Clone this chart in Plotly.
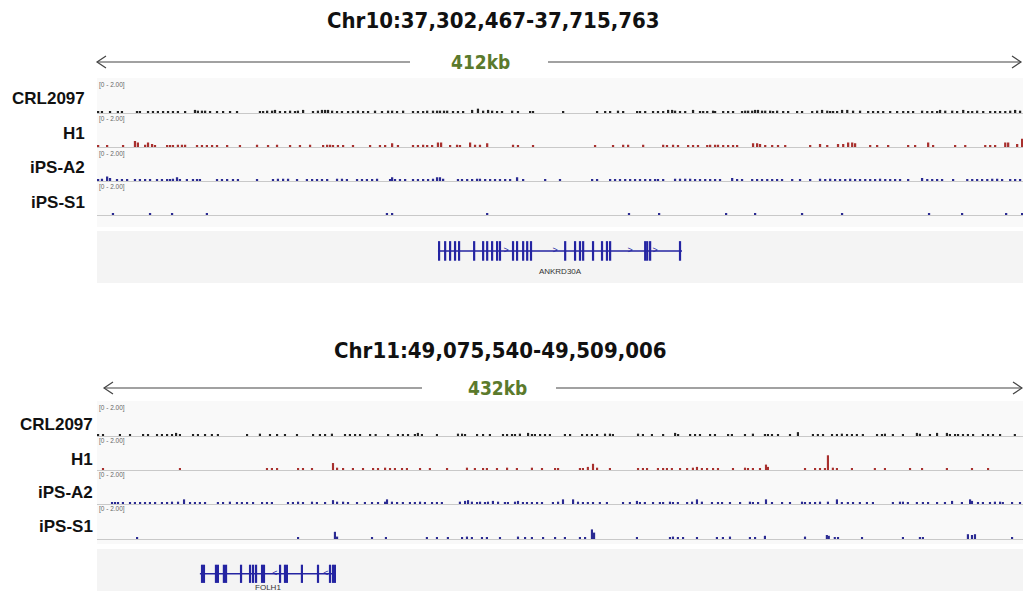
import plotly.graph_objects as go

W, H = 1023, 591


def px(x):
    return x / W


def py(y):
    return 1 - y / H


# ---------------- data ----------------
REGION_TITLES = ["Chr10:37,302,467-37,715,763", "Chr11:49,075,540-49,509,006"]
REGION_SPANS_KB = [412, 432]
SPAN_LABELS = ["412kb", "432kb"]
TRACK_NAMES = ["CRL2097", "H1", "iPS-A2", "iPS-S1"]
DATA_RANGE_LABEL = "[0 - 2.00]"
DATA_RANGE = [0, 2.0]

# ---- Region 1 (Chr10) signal: position (kb from region start) and value ----
R1_CRL2097_POS = [
    0.5, 2.2, 5.8, 9.3, 11.1, 17.8, 19.1, 22.7, 24.9, 27.1,
    29.4, 31.6, 33.8, 36.0, 39.2, 43.6, 44.9, 46.7, 48.1, 50.3,
    53.4, 56.1, 59.2, 62.3, 72.5, 73.9, 75.7, 77.9, 79.2, 81.4,
    83.7, 85.9, 88.1, 89.4, 91.7, 96.1, 98.3, 100.1, 101.5, 102.8,
    104.6, 106.8, 109.0, 111.7, 113.9, 116.1, 118.4, 120.6, 123.7, 126.8,
    129.5, 131.3, 133.5, 136.2, 140.6, 142.8, 145.1, 146.9, 149.5, 151.3,
    152.6, 154.4, 155.8, 158.4, 160.6, 162.9, 166.9, 169.5, 171.8, 174.0,
    175.8, 178.0, 180.2, 184.7, 187.3, 192.7, 194.0, 207.4, 222.5, 226.1,
    228.3, 231.8, 234.1, 240.3, 241.6, 243.9, 247.4, 249.6, 251.9, 254.1,
    255.9, 257.2, 259.4, 261.7, 265.2, 268.3, 269.7, 271.5, 274.1, 275.0,
    278.6, 280.8, 283.0, 287.0, 288.4, 289.7, 291.5, 292.8, 294.1, 295.9,
    297.3, 299.5, 300.8, 302.6, 305.3, 307.5, 311.5, 313.7, 318.2, 320.4,
    322.6, 324.9, 326.2, 327.5, 329.3, 331.5, 333.8, 336.4, 339.5, 343.1,
    345.3, 347.5, 349.8, 352.9, 356.0, 358.7, 360.9, 363.1, 367.1, 369.4,
    371.6, 373.8, 375.1, 377.4, 380.5, 382.7, 385.4, 387.6, 389.4, 391.6,
    394.3, 397.4, 399.6, 401.8, 404.1, 406.3, 408.5, 410.7,
]
R1_CRL2097_VAL = [
    .1, .1, .1, .1, .1, .1, .1, .1, .1, .1,
    .1, .1, .1, .1, .1, .2, .15, .15, .15, .1,
    .1, .1, .1, .1, .1, .1, .15, .15, .2, .1,
    .1, .15, .1, .15, .2, .1, .15, .2, .2, .2,
    .15, .1, .1, .1, .1, .15, .1, .1, .15, .1,
    .15, .15, .1, .15, .1, .1, .1, .15, .15, .15,
    .15, .15, .15, .1, .1, .1, .2, .28, .15, .2,
    .15, .1, .1, .15, .1, .1, .1, .1, .1, .1,
    .1, .15, .1, .1, .1, .1, .1, .1, .1, .2,
    .2, .15, .1, .1, .2, .1, .1, .1, .15, .1,
    .1, .1, .1, .1, .15, .15, .15, .2, .2, .15,
    .15, .15, .1, .15, .1, .1, .1, .1, .1, .15,
    .2, .15, .1, .1, .1, .2, .2, .15, .15, .1,
    .1, .1, .1, .1, .1, .1, .1, .1, .15, .1,
    .1, .1, .2, .15, .15, .1, .2, .1, .1, .15,
    .1, .1, .1, .1, .1, .15, .2, .15,
]

R1_H1_POS = [
    0.5, 4.5, 11.6, 16.9, 18.2, 21.4, 22.7, 24.5, 25.8, 31.2,
    32.5, 33.8, 36.0, 37.8, 39.2, 44.5, 46.7, 48.9, 51.2, 53.4,
    57.9, 63.6, 71.2, 76.1, 80.1, 85.9, 90.3, 94.8, 100.6, 102.4,
    103.7, 105.0, 107.2, 109.5, 113.9, 121.5, 125.9, 128.2, 131.3, 133.9,
    140.6, 142.8, 145.1, 146.9, 149.1, 151.7, 153.1, 157.1, 160.2, 161.5,
    166.0, 168.2, 170.4, 173.6, 185.1, 187.3, 194.0, 221.6, 229.6, 234.1,
    236.3, 243.0, 251.9, 253.6, 256.3, 258.5, 263.0, 265.2, 267.4, 271.5,
    272.8, 275.0, 276.3, 278.6, 280.8, 283.0, 284.8, 291.9, 293.7, 295.0,
    297.3, 300.4, 303.0, 306.2, 317.3, 321.7, 324.9, 329.7, 332.0, 334.2,
    336.0, 337.3, 344.0, 347.1, 352.0, 360.9, 364.0, 369.8, 372.0, 381.8,
    386.3, 395.2, 397.4, 399.6, 404.1, 405.4, 409.4, 411.6,
]
R1_H1_VAL = [
    .1, .1, .1, .4, .3, .15, .3, .2, .1, .1,
    .1, .1, .15, .15, .15, .1, .1, .1, .1, .1,
    .1, .1, .15, .1, .15, .1, .1, .15, .1, .15,
    .15, .1, .1, .1, .1, .1, .1, .1, .25, .1,
    .1, .1, .15, .1, .1, .3, .3, .1, .15, .1,
    .3, .15, .15, .25, .15, .1, .1, .1, .1, .15,
    .15, .15, .15, .1, .15, .1, .1, .1, .1, .1,
    .15, .15, .15, .1, .1, .1, .1, .25, .25, .2,
    .1, .1, .1, .1, .1, .2, .1, .2, .2, .3,
    .3, .25, .1, .1, .1, .1, .1, .3, .1, .1,
    .1, .1, .1, .1, .3, .3, .2, .55,
]

R1_IPSA2_POS = [
    0.5, 2.2, 4.5, 5.8, 8.9, 11.1, 13.4, 16.9, 19.1, 21.4,
    23.6, 26.7, 28.9, 31.2, 32.5, 33.8, 35.6, 36.9, 40.0, 42.7,
    44.5, 45.8, 53.4, 55.6, 57.9, 60.5, 62.7, 71.2, 78.3, 80.5,
    82.8, 85.0, 89.0, 93.4, 95.7, 97.9, 100.1, 102.4, 106.8, 109.0,
    111.2, 115.7, 117.9, 120.1, 122.4, 124.6, 130.4, 131.3, 132.6, 134.8,
    137.1, 140.6, 142.8, 145.1, 147.3, 149.5, 151.3, 152.6, 154.0, 160.6,
    162.4, 164.7, 166.9, 169.1, 170.4, 172.7, 174.9, 177.1, 179.3, 181.6,
    183.8, 186.9, 189.6, 199.4, 206.0, 220.3, 222.5, 228.3, 230.5, 232.7,
    235.0, 237.2, 239.4, 241.6, 243.9, 246.1, 248.3, 249.6, 251.9, 257.2,
    259.4, 261.7, 263.9, 266.1, 268.3, 270.6, 272.8, 275.0, 277.2, 282.6,
    284.8, 287.0, 291.5, 293.7, 295.9, 298.2, 300.4, 302.6, 304.8, 309.3,
    312.8, 317.3, 321.7, 324.0, 326.2, 328.4, 330.6, 332.9, 335.1, 337.3,
    339.5, 341.8, 344.0, 346.2, 348.4, 350.7, 352.9, 355.1, 357.3, 360.9,
    367.1, 369.4, 371.6, 373.8, 376.0, 380.9, 387.2, 389.4, 391.6, 393.8,
    396.1, 398.3, 400.5, 402.7, 406.3, 408.5, 410.7,
]
R1_IPSA2_VAL = [
    .1, .15, .3, .2, .1, .1, .1, .1, .1, .1,
    .1, .1, .1, .1, .1, .15, .25, .1, .1, .1,
    .1, .1, .1, .1, .1, .1, .1, .1, .1, .15,
    .15, .15, .1, .1, .1, .1, .1, .1, .15, .15,
    .1, .1, .1, .1, .1, .15, .1, .25, .1, .1,
    .1, .1, .1, .1, .1, .15, .25, .25, .15, .1,
    .1, .1, .1, .15, .15, .1, .1, .1, .1, .1,
    .1, .25, .1, .1, .1, .1, .1, .1, .1, .1,
    .1, .1, .1, .1, .1, .1, .1, .1, .1, .15,
    .15, .15, .15, .1, .1, .1, .1, .1, .1, .2,
    .1, .1, .1, .1, .1, .1, .1, .1, .1, .1,
    .1, .1, .15, .1, .15, .1, .1, .1, .15, .1,
    .1, .1, .1, .1, .15, .1, .1, .1, .1, .1,
    .2, .1, .1, .1, .1, .1, .1, .1, .1, .1,
    .1, .15, .15, .1, .1, .1, .1,
]

R1_IPSS1_POS = [7.1, 23.6, 33.4, 48.9, 129.0, 131.3, 173.6, 236.7, 250.1,
                279.9, 292.8, 313.7, 331.5, 370.2, 384.9, 404.5, 411.6]
R1_IPSS1_VAL = [.1, .1, .1, .1, .1, .12, .1, .1, .1,
                .1, .1, .1, .1, .1, .1, .1, .12]

# ---- Region 2 (Chr11) signal ----
R2_CRL2097_POS = [
    0.5, 2.8, 10.7, 15.4, 21.5, 23.8, 28.0, 30.3, 32.7, 35.0,
    36.9, 38.7, 44.8, 47.1, 50.4, 53.6, 56.4, 70.0, 76.0, 80.7,
    84.0, 87.7, 93.3, 100.8, 104.0, 106.4, 109.6, 115.7, 118.0, 120.4,
    122.7, 127.4, 130.0, 135.8, 140.4, 142.7, 145.1, 148.3, 149.7, 151.6,
    158.6, 168.4, 170.3, 171.7, 177.3, 180.1, 183.3, 189.4, 191.3, 193.6,
    195.0, 197.3, 201.1, 202.9, 204.3, 206.7, 209.0, 211.3, 218.3, 220.7,
    226.3, 228.6, 230.9, 233.3, 237.0, 239.3, 240.7, 252.4, 254.7, 258.9,
    264.1, 269.7, 271.1, 276.7, 279.0, 281.3, 286.0, 288.3, 294.4, 296.2,
    302.3, 306.0, 311.6, 313.0, 314.9, 317.7, 323.3, 327.0, 334.0, 336.3,
    338.7, 342.9, 345.2, 347.5, 349.9, 352.2, 354.5, 357.3, 363.9, 366.2,
    367.6, 371.3, 376.0, 382.5, 383.9, 388.6, 391.9, 396.5, 397.9, 400.3,
    401.7, 404.0, 406.3, 408.7, 413.3, 415.7, 418.0, 421.3, 428.2,
]
R2_CRL2097_VAL = [
    .1, .1, .1, .1, .1, .1, .1, .1, .1, .1,
    .2, .1, .1, .1, .1, .1, .1, .1, .15, .1,
    .1, .1, .1, .1, .1, .1, .15, .1, .1, .1,
    .1, .1, .1, .1, .1, .1, .1, .1, .2, .1,
    .1, .15, .15, .1, .1, .1, .1, .1, .1, .1,
    .1, .15, .2, .1, .1, .1, .1, .1, .1, .1,
    .1, .1, .1, .1, .15, .15, .1, .15, .1, .1,
    .1, .2, .1, .1, .1, .1, .1, .1, .1, .1,
    .1, .15, .1, .1, .1, .1, .1, .25, .1, .1,
    .1, .1, .1, .15, .1, .1, .1, .1, .1, .1,
    .15, .1, .1, .2, .15, .1, .2, .2, .1, .1,
    .1, .1, .1, .1, .1, .1, .1, .1, .1,
]

R2_H1_POS = [
    2.8, 38.7, 79.3, 81.6, 84.0, 93.8, 96.1, 100.3, 110.1, 112.0,
    114.8, 119.4, 124.1, 128.8, 131.1, 134.4, 136.7, 139.0, 142.3, 144.6,
    150.7, 155.3, 163.3, 172.6, 176.3, 180.1, 181.9, 186.6, 191.3, 195.9,
    202.9, 207.6, 213.7, 215.1, 225.3, 226.7, 229.0, 231.4, 233.3, 239.3,
    252.4, 254.7, 256.6, 261.7, 264.1, 265.9, 268.2, 272.0, 275.3, 278.0,
    279.9, 282.2, 284.6, 287.4, 289.7, 296.7, 302.3, 303.7, 306.0, 309.3,
    312.1, 313.0, 330.3, 335.0, 337.3, 339.6, 341.0, 343.3, 345.2, 352.2,
    362.9, 367.6, 379.3, 384.9, 396.5, 408.2, 415.7,
]
R2_H1_VAL = [
    .1, .12, .1, .1, .1, .1, .1, .1, .45, .15,
    .1, .1, .1, .1, .1, .15, .1, .1, .1, .1,
    .1, .1, .1, .15, .1, .1, .1, .1, .15, .1,
    .15, .1, .1, .1, .1, .1, .2, .4, .15, .1,
    .1, .1, .1, .1, .1, .1, .1, .1, .1, .15,
    .2, .1, .1, .1, .1, .1, .15, .1, .1, .1,
    .35, .2, .1, .1, .1, .1, .95, .15, .1, .1,
    .1, .1, .1, .1, .1, .1, .1,
]

R2_IPSA2_POS = [
    7.0, 8.4, 9.8, 12.1, 15.4, 17.7, 20.1, 22.4, 24.7, 27.1,
    30.3, 32.7, 35.0, 37.8, 40.6, 43.4, 45.7, 48.0, 50.4, 56.4,
    58.8, 62.0, 65.3, 67.6, 70.0, 72.8, 77.0, 79.3, 81.6, 89.1,
    91.4, 93.8, 96.1, 100.3, 102.6, 106.4, 110.1, 112.0, 114.8, 117.1,
    121.3, 125.0, 128.3, 131.1, 134.4, 135.3, 137.6, 140.0, 142.7, 146.0,
    148.3, 150.7, 153.0, 156.3, 158.6, 160.9, 169.3, 171.7, 173.1, 174.9,
    177.3, 178.7, 181.0, 182.4, 184.7, 187.1, 190.3, 191.7, 195.0, 196.4,
    198.7, 200.6, 202.9, 205.3, 207.6, 212.7, 215.1, 217.4, 222.1, 224.4,
    226.7, 229.0, 231.4, 234.6, 237.9, 245.4, 248.6, 251.9, 253.3, 255.6,
    259.4, 262.6, 264.1, 267.3, 268.7, 271.0, 275.3, 277.6, 279.9, 282.2,
    286.9, 289.7, 291.6, 295.3, 300.0, 304.6, 306.0, 308.4, 312.1, 314.9,
    319.6, 323.3, 328.9, 330.3, 332.6, 335.0, 337.3, 341.0, 345.2, 347.5,
    350.3, 352.7, 355.9, 359.2, 362.0, 371.3, 374.6, 376.0, 378.3, 382.5,
    385.3, 387.7, 391.9, 395.6, 398.9, 403.5, 407.3, 408.2, 411.0, 413.3,
    416.6, 418.9, 421.3, 422.6, 426.9, 430.6,
]
R2_IPSA2_VAL = [
    .1, .1, .1, .1, .1, .1, .1, .1, .1, .1,
    .1, .1, .15, .15, .3, .1, .1, .1, .1, .1,
    .1, .15, .1, .1, .1, .1, .1, .1, .1, .1,
    .1, .15, .1, .15, .1, .1, .25, .15, .15, .1,
    .1, .1, .1, .1, .15, .3, .15, .1, .1, .1,
    .1, .15, .1, .1, .1, .1, .15, .2, .25, .15,
    .1, .15, .1, .15, .2, .15, .1, .1, .15, .2,
    .1, .1, .1, .1, .1, .1, .15, .3, .3, .15,
    .1, .1, .1, .1, .1, .1, .1, .2, .1, .1,
    .1, .1, .1, .15, .1, .1, .1, .15, .3, .15,
    .1, .1, .1, .1, .1, .15, .1, .1, .3, .1,
    .1, .1, .15, .1, .1, .1, .15, .15, .3, .1,
    .1, .1, .1, .1, .1, .1, .15, .15, .1, .1,
    .1, .1, .1, .1, .2, .1, .3, .2, .1, .1,
    .1, .15, .15, .1, .1, .1,
]

R2_IPSS1_POS = [
    18.7, 93.8, 111.0, 112.0, 128.3, 134.8, 153.9, 158.6, 163.7, 170.3,
    172.6, 174.9, 179.6, 181.9, 188.0, 196.4, 199.7, 202.9, 208.1, 213.7,
    218.3, 225.3, 227.7, 230.9, 231.9, 251.9, 267.3, 268.7, 271.0, 273.4,
    279.9, 289.2, 292.0, 295.3, 304.6, 307.0, 311.6, 330.3, 340.5, 341.4,
    344.2, 345.7, 356.9, 376.0, 383.9, 385.3, 406.3, 408.2, 409.6, 426.9,
]
R2_IPSS1_VAL = [
    .1, .1, .45, .15, .1, .1, .1, .1, .1, .1,
    .15, .1, .1, .1, .1, .15, .1, .1, .1, .1,
    .1, .1, .1, .6, .4, .1, .1, .15, .1, .1,
    .1, .1, .1, .15, .1, .1, .2, .15, .25, .2,
    .1, .1, .1, .1, .1, .1, .3, .25, .3, .1,
]

# ---- genes ----
ANKRD30A_SPAN_KB = [151.7, 260.3]
ANKRD30A_EXONS_KB = [152.2, 154.9, 157.1, 159.3, 161.1, 167.8, 171.8, 173.6, 175.8,
                     178.0, 179.3, 185.1, 186.9, 189.6, 191.4, 193.1, 208.3, 212.7,
                     214.9, 216.3, 220.7, 224.7, 226.9, 228.3, 243.9, 244.8, 246.1,
                     259.4]
ANKRD30A_STRAND_KB = [182.0, 203.8, 237.2, 248.3]

FOLH1_SPAN_KB = [48.0, 111.5]
FOLH1_EXONS_KB = [49.0, 49.9, 55.5, 56.4, 59.2, 60.2, 67.2, 71.4, 72.8, 74.2,
                  77.0, 77.9, 85.4, 87.7, 88.6, 95.6, 103.1, 108.7, 110.1, 111.0]
FOLH1_STRAND_KB = [83.0, 106.8]

REGION_SIGNALS = [
    [(R1_CRL2097_POS, R1_CRL2097_VAL), (R1_H1_POS, R1_H1_VAL),
     (R1_IPSA2_POS, R1_IPSA2_VAL), (R1_IPSS1_POS, R1_IPSS1_VAL)],
    [(R2_CRL2097_POS, R2_CRL2097_VAL), (R2_H1_POS, R2_H1_VAL),
     (R2_IPSA2_POS, R2_IPSA2_VAL), (R2_IPSS1_POS, R2_IPSS1_VAL)],
]
REGION_GENES = [
    ("ANKRD30A", ANKRD30A_SPAN_KB, ANKRD30A_EXONS_KB, ANKRD30A_STRAND_KB, ">"),
    ("FOLH1", FOLH1_SPAN_KB, FOLH1_EXONS_KB, FOLH1_STRAND_KB, "<"),
]

# ---------------- styling / layout (pixels) ----------------
TRACK_COLORS = ["#222222", "#a8302e", "#2a2a92", "#2a2a92"]
GENE_COLOR = "#2424a2"
TRACK_X0 = 97
PANELS = [
    dict(title_y=20, title_x=493, arrow_y=62, arrow_l=(97, 410), arrow_r=(548, 1021),
         span_x=480, tracks=[(82, 113), (117, 147), (151, 181), (185, 215)],
         label_y=[99, 134, 168, 202], label_right=87, range_y=[85, 119, 154, 187],
         bg=(78, 227), gene_bg=(231, 283), gene_dom=(234, 282), gene_range=[-2.2, 1.2],
         name_y=-1.5, exon_size=14),
    dict(title_y=350, title_x=500, arrow_y=388, arrow_l=(104, 422), arrow_r=(556, 1022),
         span_x=497, tracks=[(405, 436), (439, 470), (473, 504), (507, 539)],
         label_y=[424, 459, 492, 526], label_right=95, range_y=[408, 441, 475, 509],
         bg=(401, 544), gene_bg=(549, 591), gene_dom=(550, 591), gene_range=[-1.3, 1.8],
         name_y=-1.05, exon_size=13),
]

TITLE_FONT = "Liberation Sans Narrow, DejaVu Sans Condensed, Arial Narrow, sans-serif"
LABEL_FONT = "Liberation Sans, Arial, sans-serif"

fig = go.Figure()
layout = dict(
    width=W, height=H, margin=dict(l=0, r=0, t=0, b=0),
    paper_bgcolor="white", plot_bgcolor="rgba(0,0,0,0)",
    showlegend=False, shapes=[], annotations=[],
)

ax = 0
for p_i, panel in enumerate(PANELS):
    span = REGION_SPANS_KB[p_i]
    # backgrounds
    for (t, b), col in [(panel["bg"], "#f9f9f9"), (panel["gene_bg"], "#f4f4f4")]:
        layout["shapes"].append(dict(type="rect", xref="paper", yref="paper",
                                     x0=px(TRACK_X0), x1=1, y0=py(b), y1=py(t),
                                     fillcolor=col, line_width=0, layer="below"))
    # title
    layout["annotations"].append(dict(
        text="<b>%s</b>" % REGION_TITLES[p_i], xref="paper", yref="paper",
        x=px(panel["title_x"]), y=py(panel["title_y"]), showarrow=False,
        xanchor="center", yanchor="middle",
        font=dict(family=TITLE_FONT, size=22, color="#111")))
    # span arrows
    ya = py(panel["arrow_y"])
    l0, l1 = panel["arrow_l"]
    r0, r1 = panel["arrow_r"]
    for a, b in [(l0, l1), (r0, r1)]:
        layout["shapes"].append(dict(type="line", xref="paper", yref="paper",
                                     x0=px(a), x1=px(b), y0=ya, y1=ya,
                                     line=dict(color="#444", width=1.2)))
    layout["shapes"].append(dict(type="path", xref="paper", yref="paper",
                                 path="M %f,%f L %f,%f L %f,%f" % (
                                     px(l0 + 9), py(panel["arrow_y"] - 6), px(l0), ya,
                                     px(l0 + 9), py(panel["arrow_y"] + 6)),
                                 line=dict(color="#444", width=1.2)))
    layout["shapes"].append(dict(type="path", xref="paper", yref="paper",
                                 path="M %f,%f L %f,%f L %f,%f" % (
                                     px(r1 - 9), py(panel["arrow_y"] - 6), px(r1), ya,
                                     px(r1 - 9), py(panel["arrow_y"] + 6)),
                                 line=dict(color="#444", width=1.2)))
    layout["annotations"].append(dict(
        text="<b>%s</b>" % SPAN_LABELS[p_i], xref="paper", yref="paper",
        x=px(panel["span_x"]), y=ya, showarrow=False, xanchor="center", yanchor="middle",
        font=dict(family=TITLE_FONT, size=19, color="#5b7a2c")))

    # signal tracks
    for t_i, (pos, val) in enumerate(REGION_SIGNALS[p_i]):
        ax += 1
        sfx = "" if ax == 1 else str(ax)
        top, base = panel["tracks"][t_i]
        layout["xaxis" + sfx] = dict(domain=[px(TRACK_X0), 1], range=[0, span],
                                     anchor="y" + sfx, showgrid=False, zeroline=False,
                                     showticklabels=False, ticks="", showline=True,
                                     linecolor="#c9c9c9", linewidth=1, fixedrange=True)
        layout["yaxis" + sfx] = dict(domain=[py(base), py(top)], range=DATA_RANGE,
                                     anchor="x" + sfx, visible=False, fixedrange=True)
        fig.add_trace(go.Bar(x=pos, y=val, width=1.0, marker_color=TRACK_COLORS[t_i],
                             marker_line_width=0, xaxis="x" + sfx, yaxis="y" + sfx,
                             hoverinfo="x+y"))
        layout["annotations"].append(dict(
            text="<b>%s</b>" % TRACK_NAMES[t_i], xref="paper", yref="paper",
            x=px(panel["label_right"]), y=py(panel["label_y"][t_i]), showarrow=False,
            xanchor="right", yanchor="middle",
            font=dict(family=LABEL_FONT, size=17, color="#111")))
        layout["annotations"].append(dict(
            text=DATA_RANGE_LABEL, xref="paper", yref="paper",
            x=px(TRACK_X0), y=py(panel["range_y"][t_i]), showarrow=False,
            xanchor="left", yanchor="middle",
            font=dict(family=LABEL_FONT, size=6.5, color="#666")))

    # gene track
    ax += 1
    sfx = str(ax)
    g_name, g_span, g_exons, g_strand, g_sym = REGION_GENES[p_i]
    gt, gb = panel["gene_dom"]
    layout["xaxis" + sfx] = dict(domain=[px(TRACK_X0), 1], range=[0, span],
                                 anchor="y" + sfx, visible=False, fixedrange=True)
    layout["yaxis" + sfx] = dict(domain=[py(gb), py(gt)], range=panel["gene_range"],
                                 anchor="x" + sfx, visible=False, fixedrange=True)
    fig.add_trace(go.Scatter(x=g_span, y=[0, 0], mode="lines",
                             line=dict(color=GENE_COLOR, width=1.5),
                             xaxis="x" + sfx, yaxis="y" + sfx, hoverinfo="skip"))
    fig.add_trace(go.Scatter(x=g_exons, y=[0] * len(g_exons), mode="markers",
                             marker=dict(symbol="line-ns", size=panel["exon_size"],
                                         line=dict(color=GENE_COLOR, width=2.2)),
                             xaxis="x" + sfx, yaxis="y" + sfx, hoverinfo="x"))
    fig.add_trace(go.Scatter(x=g_strand, y=[0] * len(g_strand), mode="text",
                             text=[g_sym] * len(g_strand),
                             textfont=dict(size=9, color=GENE_COLOR, family=LABEL_FONT),
                             xaxis="x" + sfx, yaxis="y" + sfx, hoverinfo="skip"))
    fig.add_trace(go.Scatter(x=[sum(g_span) / 2], y=[panel["name_y"]], mode="text",
                             text=[g_name],
                             textfont=dict(size=8, color="#333", family=LABEL_FONT),
                             xaxis="x" + sfx, yaxis="y" + sfx, hoverinfo="skip",
                             cliponaxis=False))

fig.update_layout(**layout)
fig.write_html("out.html")
